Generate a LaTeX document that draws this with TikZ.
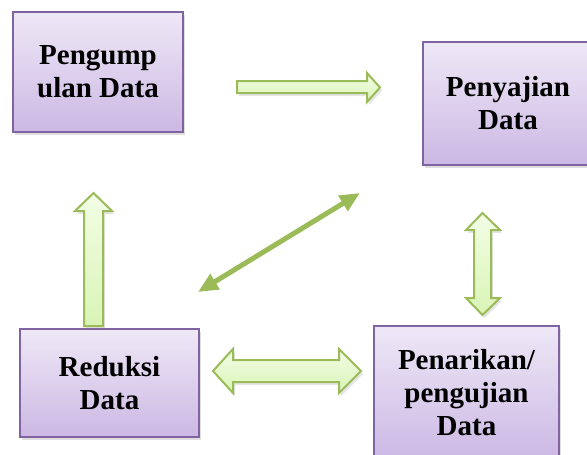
\documentclass[tikz,border=0pt]{standalone}
\usepackage{fontspec}
\setmainfont{Liberation Serif}
\usetikzlibrary{shadows,arrows.meta}
\definecolor{boxtop}{HTML}{EEE8F6}
\definecolor{boxbot}{HTML}{CCB8E4}
\definecolor{boxline}{HTML}{8064A2}
\definecolor{arrtop}{HTML}{F3FDE6}
\definecolor{arrbot}{HTML}{D9F4B6}
\definecolor{arrline}{HTML}{9BBB59}
\tikzset{
  databox/.style={draw=boxline, line width=2pt, top color=boxtop, bottom color=boxbot,
    align=center, font=\fontsize{29}{33}\selectfont\bfseries, inner sep=0pt,
    drop shadow={shadow xshift=2pt, shadow yshift=-3pt, opacity=0.25}},
  blockarrow/.style={draw=arrline, line width=2pt, line join=miter, top color=arrtop, bottom color=arrbot,
    drop shadow={shadow xshift=2pt, shadow yshift=-3pt, opacity=0.2}},
  thinarrow/.style={draw=arrline, line width=5pt, {Triangle[length=20pt,width=17pt]}-{Triangle[length=20pt,width=17pt]}}
}
\begin{document}
\begin{tikzpicture}[x=1pt,y=-1pt]
\useasboundingbox (0,0) rectangle (587,455);
\fill[white] (0,0) rectangle (587,455);
\clip (0,0) rectangle (587,455);

\node[databox, minimum width=170pt, minimum height=120pt] (pengumpulan) at (98,72) {Pengump\\ulan Data};
\node[databox, minimum width=170pt, minimum height=123pt] (penyajian) at (508,103.5) {Penyajian\\Data};
\node[databox, minimum width=179pt, minimum height=108pt] (reduksi) at (109.5,383) {Reduksi\\Data};
\node[databox, minimum width=185pt, minimum height=134pt] (penarikan) at (466.5,393) {Penarikan/\\pengujian\\Data};

% top right arrow
\path[blockarrow] (237,81) -- (367,81) -- (367,73) -- (380,87.5) -- (367,102) -- (367,93) -- (237,93) -- cycle;
% left up arrow
\path[blockarrow] (84,326) -- (84,211) -- (75,211) -- (93.5,193) -- (112,211) -- (103,211) -- (103,326) -- cycle;
% right vertical double arrow
\path[blockarrow] (482.5,213) -- (500,230) -- (491,230) -- (491,298) -- (500,298) -- (482.5,315) -- (466,298) -- (474,298) -- (474,230) -- (466,230) -- cycle;
% bottom double arrow
\path[blockarrow] (213,371) -- (233,349) -- (233,360) -- (339,360) -- (339,349) -- (361,371) -- (339,393) -- (339,382) -- (233,382) -- (233,393) -- cycle;

% diagonal arrow
\coordinate (dA) at (198,292);
\coordinate (dB) at (360,193);
\draw[thinarrow] (dA) -- (dB);
\end{tikzpicture}
\end{document}
